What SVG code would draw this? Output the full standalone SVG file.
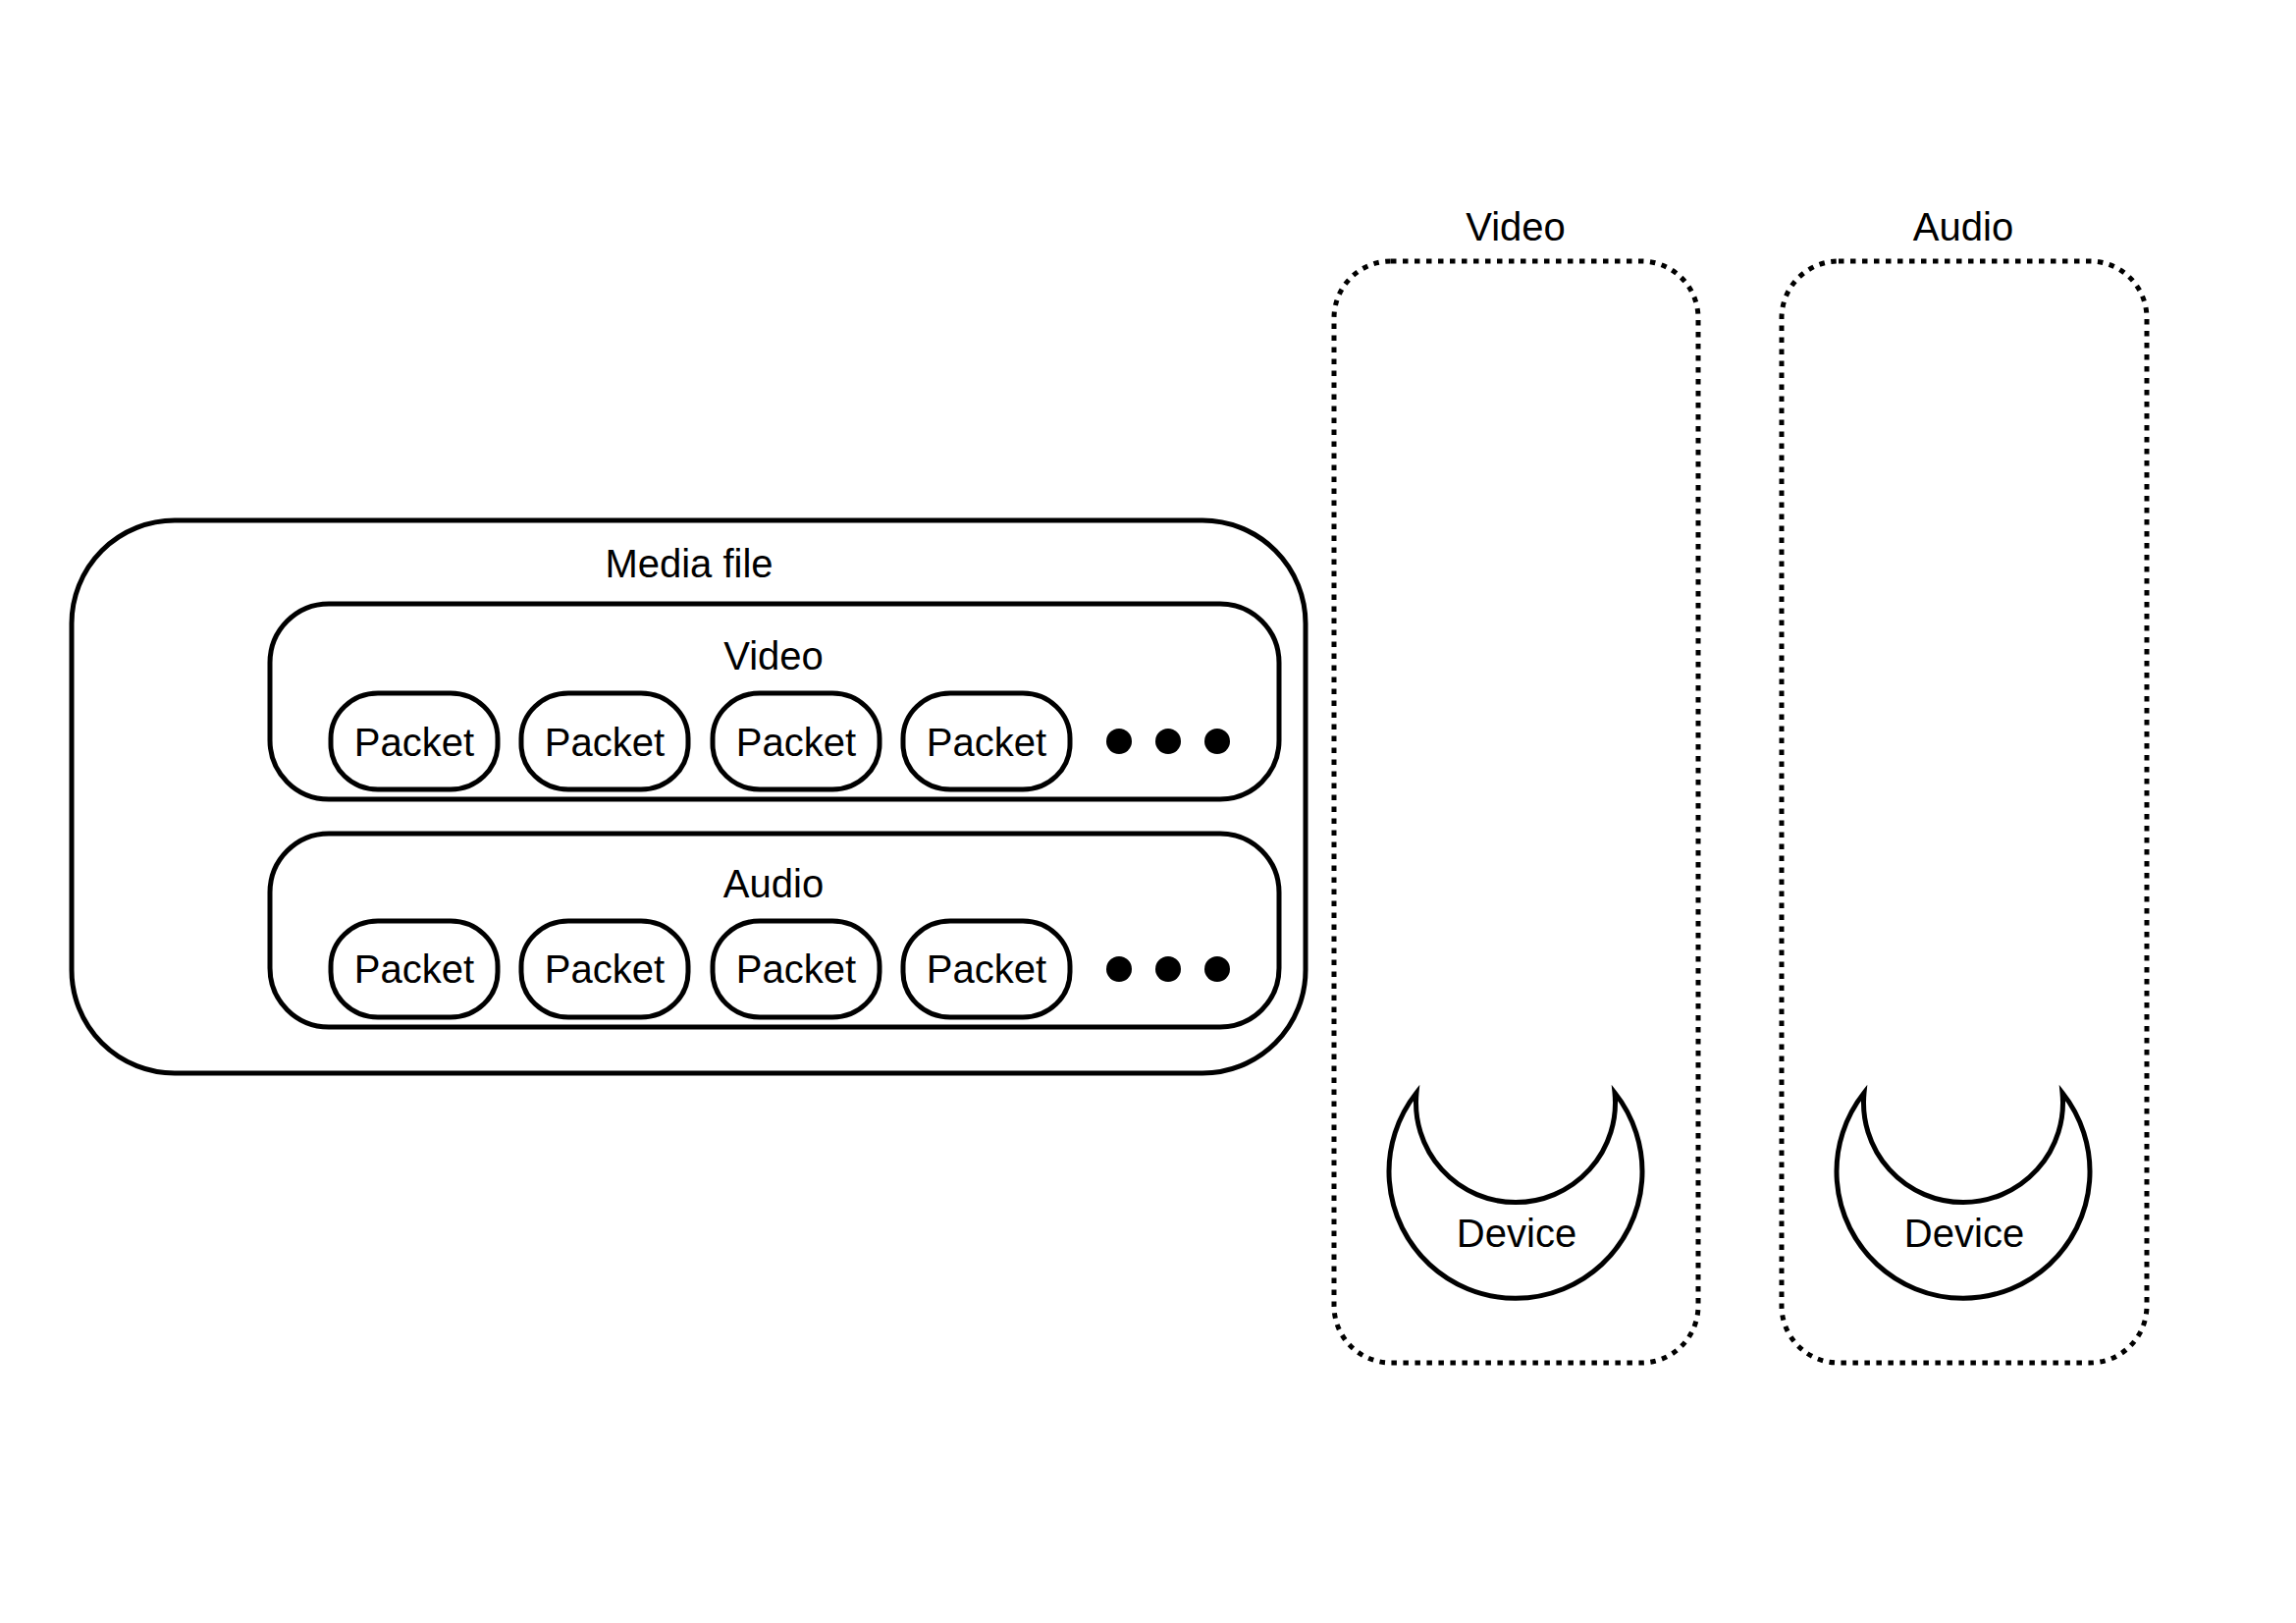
<svg xmlns="http://www.w3.org/2000/svg" width="2339" height="1653" viewBox="0 0 2339 1653">
<style>
.box{fill:none;stroke:#000;stroke-width:5}
.dash{fill:none;stroke:#000;stroke-width:5;stroke-dasharray:5.5 6.5}
.t{font-family:"Liberation Sans",Arial,sans-serif;font-size:40px;fill:#000;text-anchor:middle}
.dot{fill:#000}
</style>
<rect width="2339" height="1653" fill="#fff"/>
<g id="media-file">
<rect class="box" x="73" y="530" width="1257" height="563" rx="105" ry="105"/>
<text class="t" x="702" y="588">Media file</text>
</g>
<g id="video-stream">
<rect class="box" x="275" y="615" width="1028" height="199" rx="60" ry="60"/>
<text class="t" x="788" y="682">Video</text>
</g>
<g id="video-packet-1"><rect class="box" x="337" y="706" width="170" height="98" rx="48" ry="46"/><text class="t" x="422" y="770">Packet</text></g>
<g id="video-packet-2"><rect class="box" x="531" y="706" width="170" height="98" rx="48" ry="46"/><text class="t" x="616" y="770">Packet</text></g>
<g id="video-packet-3"><rect class="box" x="726" y="706" width="170" height="98" rx="48" ry="46"/><text class="t" x="811" y="770">Packet</text></g>
<g id="video-packet-4"><rect class="box" x="920" y="706" width="170" height="98" rx="48" ry="46"/><text class="t" x="1005" y="770">Packet</text></g>
<g id="video-more"><circle class="dot" cx="1140" cy="755" r="13"/><circle class="dot" cx="1190" cy="755" r="13"/><circle class="dot" cx="1240" cy="755" r="13"/></g>
<g id="audio-stream">
<rect class="box" x="275" y="849" width="1028" height="197" rx="60" ry="60"/>
<text class="t" x="788" y="914">Audio</text>
</g>
<g id="audio-packet-1"><rect class="box" x="337" y="938" width="170" height="98" rx="48" ry="46"/><text class="t" x="422" y="1001">Packet</text></g>
<g id="audio-packet-2"><rect class="box" x="531" y="938" width="170" height="98" rx="48" ry="46"/><text class="t" x="616" y="1001">Packet</text></g>
<g id="audio-packet-3"><rect class="box" x="726" y="938" width="170" height="98" rx="48" ry="46"/><text class="t" x="811" y="1001">Packet</text></g>
<g id="audio-packet-4"><rect class="box" x="920" y="938" width="170" height="98" rx="48" ry="46"/><text class="t" x="1005" y="1001">Packet</text></g>
<g id="audio-more"><circle class="dot" cx="1140" cy="987" r="13"/><circle class="dot" cx="1190" cy="987" r="13"/><circle class="dot" cx="1240" cy="987" r="13"/></g>
<g id="video-output">
<text class="t" x="1544" y="245">Video</text>
<rect class="dash" x="1359" y="266" width="371" height="1122" rx="58" ry="58"/>
</g>
<g id="video-device">
<path class="box" d="M 1443 1113 A 129 129 0 1 0 1645 1113 A 101.5 101.5 0 1 1 1443 1113 Z" stroke-linejoin="miter"/>
<text class="t" x="1545" y="1270">Device</text>
</g>
<g id="audio-output">
<text class="t" x="2000" y="245">Audio</text>
<rect class="dash" x="1815" y="266" width="372" height="1122" rx="58" ry="58"/>
</g>
<g id="audio-device">
<path class="box" d="M 1899 1113 A 129 129 0 1 0 2101 1113 A 101.5 101.5 0 1 1 1899 1113 Z" stroke-linejoin="miter"/>
<text class="t" x="2001" y="1270">Device</text>
</g>
<g id="connectors"/>
</svg>
